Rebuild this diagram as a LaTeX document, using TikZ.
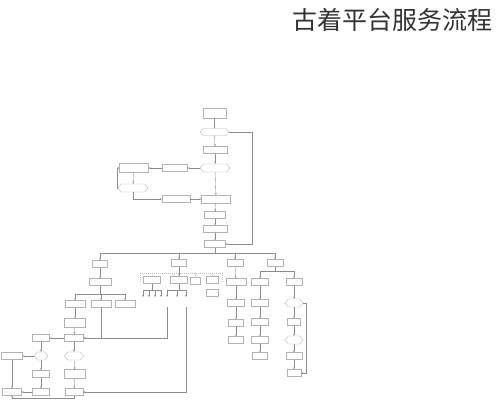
\documentclass[tikz,border=0pt]{standalone}
\usepackage{fontspec}
\newfontfamily\cjk{Noto Sans CJK SC}
\usetikzlibrary{shapes.symbols,arrows.meta}
\begin{document}
\begin{tikzpicture}[x=1pt,y=-1pt,
 box/.style={draw=black!30,line width=0.35pt,fill=white,inner sep=0pt,minimum width=#1,minimum height=7},
 box/.default=20,
 dec/.style={signal,signal to=west and east,signal pointer angle=100,draw=black!30,line width=0.35pt,fill=white,inner sep=0pt,minimum width=#1,minimum height=8},
 dec/.default=20,
 ln/.style={draw=black!45,line width=0.35pt},
 ar/.style={ln,-{Stealth[length=2pt,width=1.8pt]}},
 gl/.style={draw=black!25,line width=0.35pt,dash pattern=on 1pt off 1pt},
]
\useasboundingbox (0,0) rectangle (497,400);
\node[anchor=east,font=\cjk\fontsize{25}{25}\selectfont,text=black!80] (title) at (496,20) {古着平台服务流程};

% main column
\node[box=23,minimum height=10] (A) at (214.5,113) {};
\node[dec=29,minimum height=7] (B) at (214.5,132) {};
\node[box=24] (C) at (215,150) {};
\node[dec=30] (D) at (215,168) {};
\node[box=25] (E) at (175,168) {};
\node[box=29,minimum height=9] (F) at (134,168) {};
\node[dec=30] (G) at (133,188) {};
\node[box=28] (H) at (176,199) {};
\node[box=29,minimum height=8] (I) at (216,199) {};
\node[box=21] (J) at (215,215) {};
\node[box=24] (K) at (215,229) {};
\node[box=21] (L) at (215,244) {};
\coordinate (r1) at (252,132);
\coordinate (r2) at (252,244);

\draw[ar] (A) -- (B);
\draw[ar] (B) -- (C);
\draw[ar] (C) -- (D);
\draw[ar] (D) -- (I);
\draw[ar] (I) -- (J);
\draw[ar] (J) -- (K);
\draw[ar] (K) -- (L);
\draw[ar] (D) -- (E);
\draw[ar] (E) -- (F);
\draw[ar] (F) -- (G);
\draw[ar] (G.west) -- ++(-1,0) |- (F.west);
\draw[ar] (G.south) |- (H.west);
\draw[ar] (H) -- (I);
\draw[ar] (B.east) -- (r1) -- (r2) -- (L.east);

% level 2
\coordinate (b0) at (215,253);
\coordinate (bl) at (100,253);
\coordinate (br) at (275,253);
\node[box=15] (M1) at (100,264) {};
\node[box=15] (M2) at (179,263) {};
\node[box=16] (M3) at (235,263) {};
\node[box=16] (M4) at (275,263) {};
\draw[ln] (L) -- (b0);
\draw[ln] (bl) -- (br);
\draw[ar] (bl) -- (M1);
\draw[ar] (M2 |- bl) -- (M2);
\draw[ar] (M3 |- bl) -- (M3);
\draw[ar] (br) -- (M4);

% left branch
\node[box=22] (P) at (100,282) {};
\node[box=20] (Q1) at (75,304) {};
\node[box=20] (Q2) at (101,304) {};
\node[box=20] (Q3) at (125,304) {};
\node[box=21,minimum height=9] (R) at (75,323) {};
\node[box=19] (S) at (74,338) {};
\node[box=17] (T) at (41,338) {};
\node[dec=14] (U) at (41,356) {};
\node[box=21] (V) at (12,356) {};
\node[box=17] (W) at (41,374) {};
\node[box=17] (X) at (41,392) {};
\node[box=19] (Y) at (12,392) {};
\node[dec=19] (Z1) at (74,356) {};
\node[box=21,minimum height=9] (Z2) at (75,374) {};
\node[box=18] (Z3) at (74,392) {};
\coordinate (p1) at (100,294);
\coordinate (q1) at (75,294);
\coordinate (q3) at (125,294);
\coordinate (bt) at (74,398);
\coordinate (by) at (12,398);
\draw[ar] (M1) -- (P);
\draw[ln] (P) -- (p1);
\draw[ln] (q1) -- (q3);
\draw[ar] (q1) -- (Q1);
\draw[ar] (Q2 |- p1) -- (Q2);
\draw[ar] (q3) -- (Q3);
\draw[ar] (Q1) -- (R);
\draw[ar] (R) -- (S);
\draw[ar] (Q2.south) |- (S.east);
\draw[ar] (S) -- (T);
\draw[ar] (T) -- (U);
\draw[ar] (U) -- (V);
\draw[ar] (U) -- (W);
\draw[ar] (W) -- (X);
\draw[ar] (X) -- (Y);
\draw[ar] (V) -- (Y);
\draw[ar] (S) -- (Z1);
\draw[ar] (Z1) -- (Z2);
\draw[ar] (Z2) -- (Z3);
\draw[ar] (Z3.south) -- (bt) -- (by) -- (Y.south);

% middle group
\coordinate (m0) at (179,273);
\coordinate (ml) at (140,273);
\coordinate (mr) at (222,273);
\node[box=17] (G1) at (152,280) {};
\node[box=17] (G2) at (179,280) {};
\node[box=10] (G3) at (195,281) {};
\node[box=12] (G4) at (212,280) {};
\node[box=12] (G5) at (212,293) {};
\draw[gl] (ml) -- (mr);
\draw[gl] (ml) -- (140,283);
\draw[gl] (mr) -- (222,283);
\draw[ar] (M2) -- (G2);
\draw[gl] (G1 |- ml) -- (G1);
\draw[gl] (G3 |- ml) -- (G3);
\draw[gl] (G4 |- ml) -- (G4);
\coordinate (g1l) at (143,290);
\coordinate (g1r) at (161,290);
\draw[ln] (G1) -- (152,290);
\draw[ln] (g1l) -- (g1r);
\foreach \x/\n in {143/a,149/b,155/c,161/d} {
  \coordinate (t\n) at (\x,297);
  \draw[ar] (\x,290) -- (t\n);
}
\coordinate (g2l) at (167,290);
\coordinate (g2r) at (186,290);
\draw[ln] (G2) -- (179,290);
\draw[ln] (g2l) -- (g2r);
\foreach \x/\n in {167/e,177/f,186/g} {
  \coordinate (t\n) at (\x,297);
  \draw[ar] (\x,290) -- (t\n);
}
\coordinate (s1) at (167,307);
\coordinate (s2) at (186,307);
\draw[ar] (s1) |- (S.east);
\draw[ar] (s2) |- (Z3.east);

% M3 column
\node[box=20] (K1) at (236,282) {};
\node[box=17] (K2) at (236,303) {};
\node[box=15] (K3) at (236,323) {};
\node[box=15] (K4) at (236,340) {};
\draw[ar] (M3) -- (K1);
\draw[ar] (K1) -- (K2);
\draw[ar] (K2) -- (K3);
\draw[ar] (K3) -- (K4);

% M4 branch
\coordinate (n0) at (275,271);
\coordinate (nl) at (260,271);
\coordinate (nr) at (294,271);
\node[box=17] (N1) at (260,282) {};
\node[box=16] (N2) at (294,282) {};
\node[box=17] (N11) at (260,303) {};
\node[box=17] (N12) at (260,322) {};
\node[box=17] (N13) at (260,340) {};
\node[box=15] (N14) at (260,356) {};
\node[dec=18] (N21) at (294,303) {};
\node[box=13] (N22) at (294,322) {};
\node[dec=18] (N23) at (294,340) {};
\node[box=16] (N24) at (294,356) {};
\node[box=14] (N25) at (294,373) {};
\coordinate (rr1) at (306,303);
\coordinate (rr2) at (306,373);
\draw[ln] (M4) -- (n0);
\draw[ln] (nl) -- (nr);
\draw[ar] (nl) -- (N1);
\draw[ar] (nr) -- (N2);
\draw[ar] (N1) -- (N11);
\draw[ar] (N11) -- (N12);
\draw[ar] (N12) -- (N13);
\draw[ar] (N13) -- (N14);
\draw[ar] (N2) -- (N21);
\draw[ar] (N21) -- (N22);
\draw[ar] (N22) -- (N23);
\draw[ar] (N23) -- (N24);
\draw[ar] (N24) -- (N25);
\draw[ar] (N21.east) -- (rr1) -- (rr2) -- (N25.east);
\end{tikzpicture}
\end{document}
